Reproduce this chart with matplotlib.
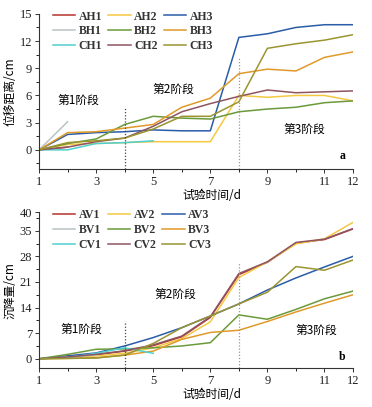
import matplotlib
matplotlib.use('Agg')
from matplotlib import pyplot as plt
from matplotlib.ticker import MultipleLocator

# Days of the test.
days = [1, 2, 3, 4, 5, 6, 7, 8, 9, 10, 11, 12]

# Horizontal displacement (cm).
ah1 = [0, 0.3]
ah2 = [0, 0.6, 0.7, 0.8, 0.9, 0.9, 0.9, 6.0, 5.8, 6.0, 6.0, 5.4]
ah3 = [0, 1.7, 1.9, 2.0, 2.2, 2.1, 2.1, 12.4, 12.8, 13.5, 13.8, 13.8]
bh1 = [0, 3.1]
bh2 = [0, 0.7, 1.2, 2.8, 3.7, 3.5, 3.4, 4.2, 4.5, 4.7, 5.2, 5.4]
bh3 = [0, 1.9, 2.0, 2.4, 2.8, 4.7, 5.7, 8.4, 8.9, 8.7, 10.2, 10.8]
ch1 = [0, 0.0, 0.7, 0.8, 1.0]
ch2 = [0, 0.3, 0.9, 1.3, 2.6, 4.2, 5.1, 5.9, 6.6, 6.3, 6.4, 6.5]
ch3 = [0, 0.8, 1.0, 1.3, 2.3, 3.7, 3.7, 5.3, 11.2, 11.7, 12.1, 12.7]

# Settlement (cm).
av1 = [0, 0.4, 1.1, 2.1, 3.6, 6.0, 11.3, 23.0, 26.4, 31.6, 32.6, 35.5]
av2 = [0, 0.3, 0.8, 1.5, 3.0, 5.5, 10.1, 22.2, 26.5, 31.4, 32.8, 37.3]
av3 = [0, 0.8, 1.6, 3.5, 5.8, 8.5, 11.7, 15.0, 18.8, 22.1, 25.1, 28.0]
bv1 = [0, 0.5, 1.0]
bv2 = [0, 1.2, 2.6, 2.7, 3.0, 3.5, 4.4, 12.0, 10.8, 13.5, 16.4, 18.5]
bv3 = [0, 0.1, 0.3, 1.0, 2.1, 5.3, 7.2, 7.8, 10.2, 12.8, 15.2, 17.5]
cv1 = [0, 0.3, 1.5, 3.0, 1.5]
cv2 = [0, 0.5, 1.2, 2.2, 3.8, 6.2, 11.5, 23.3, 26.5, 31.8, 32.7, 35.6]
cv3 = [0, 0.1, 0.2, 1.0, 4.2, 8.5, 11.7, 15.0, 18.2, 25.2, 24.2, 27.0]

colors = ['#b5332e', '#f5c842', '#2a5ca8',
          '#b8c4c4', '#6a9a3a', '#e09a2a',
          '#4fd0d0', '#8e5560', '#9a9530']

cjk = ['Noto Sans CJK SC', 'DejaVu Sans']
serif = 'Liberation Serif'

fig = plt.figure(figsize=(3.72, 4.07), dpi=100)


def format_axes(ax, ylim, yticks, yminor, ylabel):
    ax.set_xlim(1, 12)
    ax.set_ylim(*ylim)
    ax.set_xticks([1, 3, 5, 7, 9, 11, 12])
    ax.set_xticks([2, 4, 6, 8, 10], minor=True)
    ax.set_yticks(yticks)
    ax.yaxis.set_minor_locator(MultipleLocator(yminor))
    ax.spines['top'].set_visible(False)
    ax.spines['right'].set_visible(False)
    for s in ('left', 'bottom'):
        ax.spines[s].set_linewidth(0.8)
        ax.spines[s].set_color('#333333')
    ax.tick_params(which='major', direction='out', length=3, width=0.7,
                   labelsize=9, pad=2, colors='#333333')
    ax.tick_params(which='minor', direction='out', length=2, width=0.6)
    for lab in ax.get_xticklabels() + ax.get_yticklabels():
        lab.set_family(serif)
        lab.set_color('#222222')
    ax.set_xlabel('试验时间/d', family=cjk, fontsize=8.5, labelpad=1, x=0.55)
    ax.set_ylabel(ylabel, family=cjk, fontsize=8.5, labelpad=2)


def draw(ax, series, names):
    lines = []
    for vals, name, c in zip(series, names, colors):
        ln, = ax.plot(days[:len(vals)], vals, color=c, lw=1.1, label=name)
        lines.append(ln)
    # legend fills by column, so reorder to read row by row
    order = [0, 3, 6, 1, 4, 7, 2, 5, 8]
    leg = ax.legend([lines[i] for i in order], [names[i] for i in order],
                    ncol=3, loc='upper left', bbox_to_anchor=(0.01, 1.09),
                    frameon=False, handlelength=1.9, handletextpad=0.3,
                    columnspacing=0.5, labelspacing=0.25,
                    prop={'family': serif, 'weight': 'bold', 'size': 8.5})
    for t in leg.get_texts():
        t.set_color('#333333')


# Horizontal displacement plot.
ax1 = fig.add_axes([0.105, 0.585, 0.844, 0.381])
draw(ax1, [ah1, ah2, ah3, bh1, bh2, bh3, ch1, ch2, ch3],
     ['AH1', 'AH2', 'AH3', 'BH1', 'BH2', 'BH3', 'CH1', 'CH2', 'CH3'])
format_axes(ax1, (-2.1, 15), [0, 3, 6, 9, 12, 15], 1.5, '位移距离/cm')
ax1.vlines(4, -2.1, 4.7, colors='#444444', linestyles=(0, (1, 1.5)), lw=0.9)
ax1.vlines(8, -2.1, 10.1, colors='#999999', linestyles=(0, (1, 1.5)), lw=0.9)
ax1.text(2.37, 5.5, '第1阶段', family=cjk, fontsize=8.5, ha='center', va='center')
ax1.text(5.7, 6.7, '第2阶段', family=cjk, fontsize=8.5, ha='center', va='center')
ax1.text(10.3, 2.3, '第3阶段', family=cjk, fontsize=8.5, ha='center', va='center')
ax1.text(11.65, -0.7, 'a', family=serif, fontsize=8.5, fontweight='bold',
         ha='center', va='center')

# Settlement plot.
ax2 = fig.add_axes([0.105, 0.096, 0.844, 0.382])
draw(ax2, [av1, av2, av3, bv1, bv2, bv3, cv1, cv2, cv3],
     ['AV1', 'AV2', 'AV3', 'BV1', 'BV2', 'BV3', 'CV1', 'CV2', 'CV3'])
format_axes(ax2, (-2.5, 40), [0, 7, 14, 21, 28, 35, 40], 3.5, '沉降量/cm')
ax2.vlines(4, -2.5, 10.4, colors='#444444', linestyles=(0, (1, 1.5)), lw=0.9)
ax2.vlines(8, -2.5, 26.5, colors='#999999', linestyles=(0, (1, 1.5)), lw=0.9)
ax2.text(2.5, 8.1, '第1阶段', family=cjk, fontsize=8.5, ha='center', va='center')
ax2.text(5.76, 17.6, '第2阶段', family=cjk, fontsize=8.5, ha='center', va='center')
ax2.text(10.7, 7.9, '第3阶段', family=cjk, fontsize=8.5, ha='center', va='center')
ax2.text(11.6, 0.6, 'b', family=serif, fontsize=8.5, fontweight='bold',
         ha='center', va='center')

plt.savefig('out.png', dpi=100)
